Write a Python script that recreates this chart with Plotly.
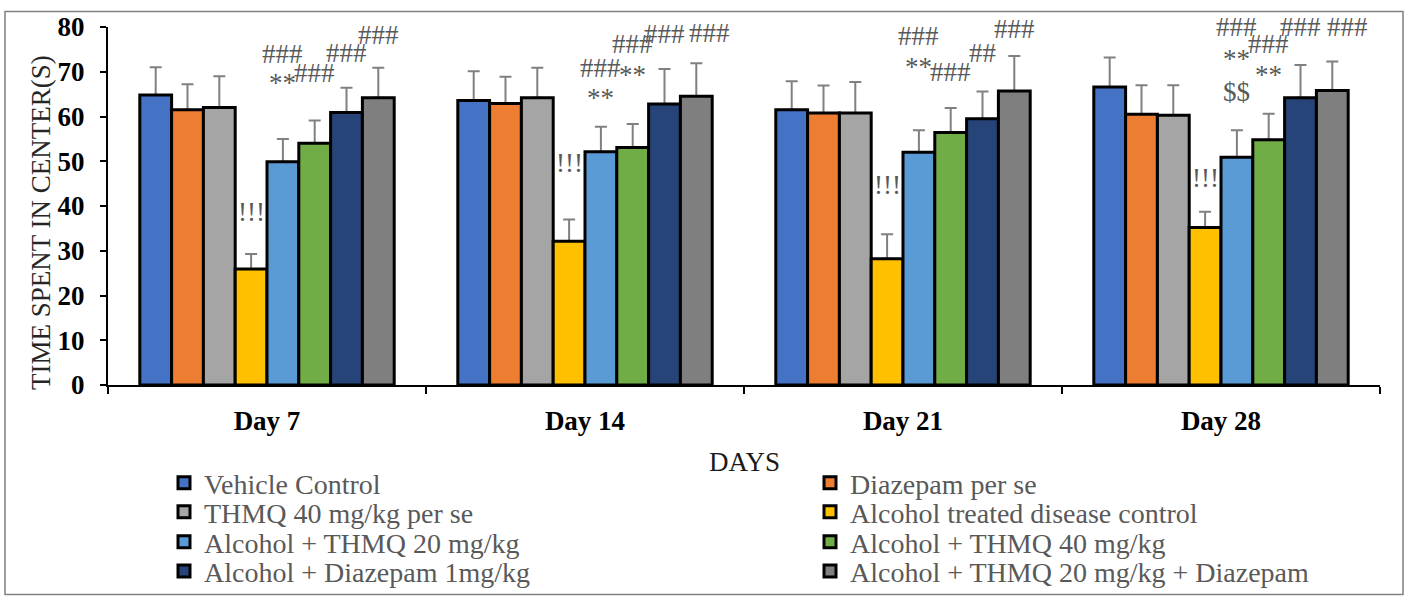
import plotly.graph_objects as go

# ---- data -------------------------------------------------------------
days = ["Day 7", "Day 14", "Day 21", "Day 28"]

groups = [
    "Vehicle Control",
    "Diazepam per se",
    "THMQ 40 mg/kg per se",
    "Alcohol treated disease control",
    "Alcohol + THMQ 20 mg/kg",
    "Alcohol + THMQ 40 mg/kg",
    "Alcohol + Diazepam 1mg/kg",
    "Alcohol + THMQ 20 mg/kg + Diazepam",
]

vehicle_control = [64.8, 63.6, 61.5, 66.6]
diazepam_per_se = [61.5, 62.9, 60.8, 60.5]
thmq40_per_se = [62.0, 64.2, 60.8, 60.3]
alcohol_control = [25.9, 32.1, 28.2, 35.2]
alcohol_thmq20 = [49.9, 52.1, 52.0, 50.9]
alcohol_thmq40 = [54.0, 53.1, 56.4, 54.8]
alcohol_diazepam = [60.9, 62.8, 59.5, 64.2]
alcohol_thmq20_diazepam = [64.2, 64.5, 65.7, 65.8]

sd_vehicle_control = [6.2, 6.5, 6.4, 6.6]
sd_diazepam_per_se = [5.7, 6.0, 6.1, 6.5]
sd_thmq40_per_se = [7.0, 6.7, 6.9, 6.7]
sd_alcohol_control = [3.4, 4.9, 5.5, 3.5]
sd_alcohol_thmq20 = [5.1, 5.6, 4.9, 6.0]
sd_alcohol_thmq40 = [5.1, 5.2, 5.5, 5.8]
sd_alcohol_diazepam = [5.5, 7.8, 6.1, 7.3]
sd_alcohol_thmq20_diazepam = [6.7, 7.4, 7.8, 6.5]

means = [vehicle_control, diazepam_per_se, thmq40_per_se, alcohol_control,
         alcohol_thmq20, alcohol_thmq40, alcohol_diazepam, alcohol_thmq20_diazepam]
sds = [sd_vehicle_control, sd_diazepam_per_se, sd_thmq40_per_se, sd_alcohol_control,
       sd_alcohol_thmq20, sd_alcohol_thmq40, sd_alcohol_diazepam, sd_alcohol_thmq20_diazepam]

# significance marks: (day, group index, symbol, height on the y scale)
sig_marks = [
    ("Day 7", 3, "!!!", 38.3),
    ("Day 7", 4, "**", 67.0),
    ("Day 7", 4, "###", 72.9),
    ("Day 7", 5, "###", 68.5),
    ("Day 7", 6, "###", 73.1),
    ("Day 7", 7, "###", 77.2),
    ("Day 14", 3, "!!!", 49.1),
    ("Day 14", 4, "**", 63.8),
    ("Day 14", 4, "###", 69.8),
    ("Day 14", 5, "**", 68.8),
    ("Day 14", 5, "###", 75.0),
    ("Day 14", 6, "###", 77.4),
    ("Day 14", 7, "###", 77.6),
    ("Day 21", 3, "!!!", 44.3),
    ("Day 21", 4, "**", 70.7),
    ("Day 21", 4, "###", 76.8),
    ("Day 21", 5, "###", 68.8),
    ("Day 21", 6, "##", 73.1),
    ("Day 21", 7, "###", 78.5),
    ("Day 28", 3, "!!!", 45.8),
    ("Day 28", 4, "$$", 64.4),
    ("Day 28", 4, "**", 72.4),
    ("Day 28", 4, "###", 78.9),
    ("Day 28", 5, "**", 68.8),
    ("Day 28", 5, "###", 75.0),
    ("Day 28", 6, "###", 78.9),
    ("Day 28", 7, "###", 78.9),
]

# ---- styling ----------------------------------------------------------
colors = ["#4472C4", "#ED7D31", "#A5A5A5", "#FFC000",
          "#5B9BD5", "#70AD47", "#264478", "#7F7F7F"]
FONT = "Liberation Serif"
W, H = 1407, 608
ML, MR, MT, MB = 108, 27, 21, 218
PW, PH = W - ML - MR, H - MT - MB
BARGAP = 0.2

fig = go.Figure()

# error whiskers live on the lower axis layer, so the bar outlines drawn
# on the overlaid axis cover the whisker feet at the bar tops
for vals, sd in zip(means, sds):
    fig.add_trace(go.Bar(
        x=days, y=vals, yaxis="y",
        marker=dict(color="rgba(0,0,0,0)", line=dict(width=0)),
        error_y=dict(type="data", array=sd, arrayminus=[0] * len(sd),
                     symmetric=False, color="#808080", thickness=2, width=6),
        showlegend=False, hoverinfo="skip",
    ))

# legend slots: two columns, four rows
legend_rows_px = [491, 521, 552, 582]
legend_cols_px = [164, 810]
legend_layouts = {}
for i, (name, vals, col) in enumerate(zip(groups, means, colors)):
    lname = "legend" if i == 0 else f"legend{i + 1}"
    fig.add_trace(go.Bar(
        name=name, x=days, y=vals, yaxis="y2",
        marker=dict(color=col, line=dict(color="black", width=3)),
        legend=lname, showlegend=True,
    ))
    row, colidx = i // 2, i % 2
    legend_layouts[lname] = dict(
        x=(legend_cols_px[colidx] - ML) / PW,
        y=(MT + PH - legend_rows_px[row]) / PH,
        xanchor="left", yanchor="middle",
        orientation="v", bgcolor="rgba(0,0,0,0)", borderwidth=0,
        font=dict(family=FONT, size=28, color="#595959"),
    )

# significance symbols above the bars
n = len(groups)
bar_w = (1 - BARGAP) / n
day_extra = {("Day 14", 7): 13, ("Day 28", 7): 15}
glyph_lift = {"*": 2, "!": 2, "#": 5, "$": 5}
annotations = []
for day, gi, txt, yv in sig_marks:
    xpos = days.index(day) + (gi - (n - 1) / 2) * bar_w
    annotations.append(dict(
        x=xpos, y=yv, xref="x", yref="y", text=txt, showarrow=False,
        xanchor="center", yanchor="middle",
        xshift=day_extra.get((day, gi), 0), yshift=glyph_lift[txt[0]],
        font=dict(family=FONT, size=27, color="#595959"),
    ))

# axis titles
annotations.append(dict(
    x=0, y=(MT + PH - 223) / PH, xref="paper", yref="paper",
    xshift=41 - ML, text="TIME SPENT IN CENTER(S)", textangle=-90,
    showarrow=False, xanchor="center", yanchor="middle",
    font=dict(family=FONT, size=27, color="#262626"),
))
annotations.append(dict(
    x=0.5, y=(MT + PH - 469) / PH, xref="paper", yref="paper",
    text="DAYS", showarrow=False, xanchor="center", yanchor="middle",
    font=dict(family=FONT, size=27, color="#1a1a1a"),
))

# outer frame
frame = dict(
    type="rect", xref="paper", yref="paper",
    x0=(5 - ML) / PW, x1=(1403 - ML) / PW,
    y0=(MT + PH - 606) / PH, y1=(MT + PH - 5) / PH,
    line=dict(color="#808080", width=1.5), fillcolor="rgba(0,0,0,0)",
    layer="below",
)

fig.update_layout(
    width=W, height=H,
    margin=dict(l=ML, r=MR, t=MT, b=MB, pad=0),
    paper_bgcolor="white", plot_bgcolor="white",
    barmode="group", bargap=BARGAP, bargroupgap=0,
    font=dict(family=FONT, color="black"),
    xaxis=dict(
        type="category", showline=True, linecolor="black", linewidth=2,
        ticks="outside", tickson="boundaries", ticklen=7, tickwidth=2,
        tickcolor="black", showgrid=False, zeroline=False,
        ticklabelstandoff=11,
        tickfont=dict(family=FONT, size=27, color="black", weight="bold"),
    ),
    yaxis=dict(
        range=[0, 80], dtick=10, showline=True, linecolor="black", linewidth=2,
        ticks="outside", ticklen=6, tickwidth=2, tickcolor="black",
        showgrid=False, zeroline=False, ticklabelstandoff=10,
        tickfont=dict(family=FONT, size=27, color="black", weight="bold"),
    ),
    yaxis2=dict(range=[0, 80], overlaying="y", visible=False),
    annotations=annotations,
    shapes=[frame],
    **legend_layouts,
)

fig.write_html("out.html")
